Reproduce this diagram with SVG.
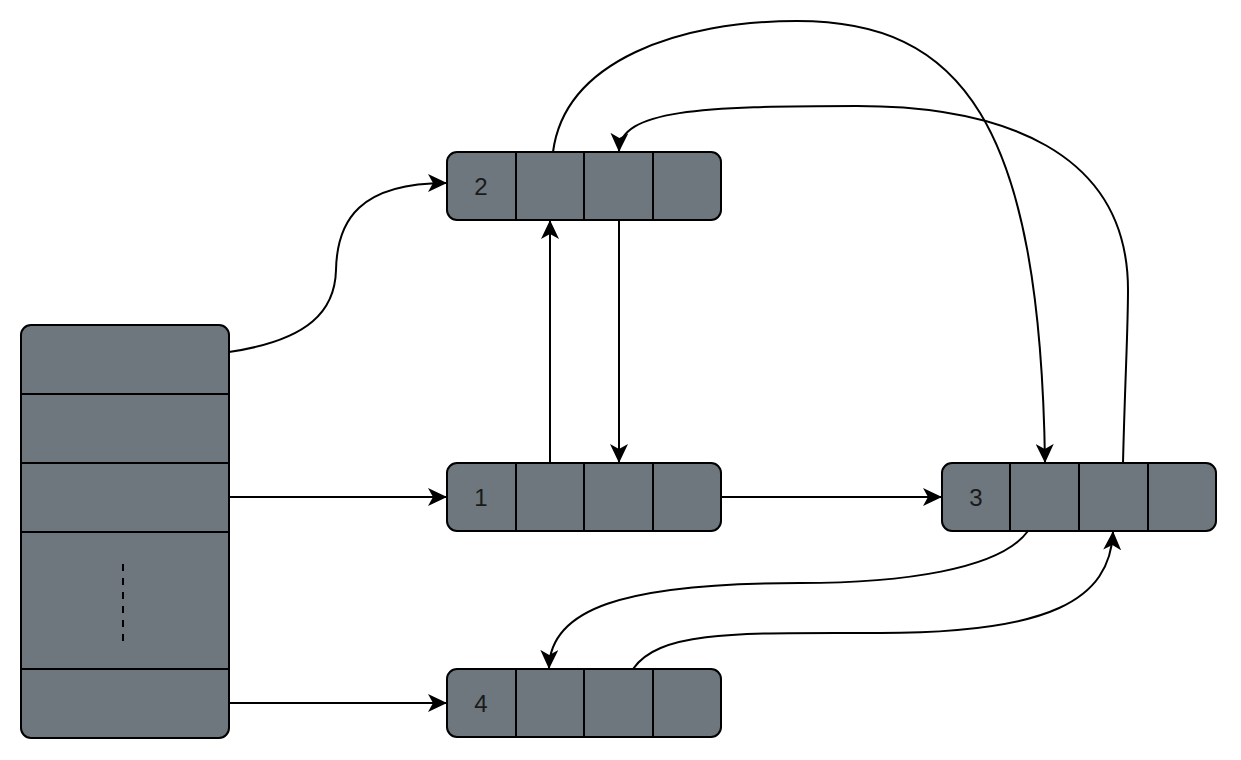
<svg xmlns="http://www.w3.org/2000/svg" width="1241" height="760" viewBox="0 0 1241 760">
<style>
.box{fill:#6d777d;stroke:#000;stroke-width:2}
.div{stroke:#000;stroke-width:2;fill:none}
.lbl{font-family:"Liberation Sans",Arial,sans-serif;font-size:24px;fill:#1a1a1a;text-anchor:middle}
.edge{fill:none;stroke:#000;stroke-width:2;marker-end:url(#arr)}
</style>
<defs>
<marker id="arr" markerUnits="userSpaceOnUse" viewBox="0 0 19 18" refX="18" refY="9" markerWidth="19" markerHeight="18" orient="auto">
<path d="M0 0 L19 9 L0 18 L5 9 Z" fill="#000"/>
</marker>
</defs>
<rect width="1241" height="760" fill="#fff"/>
<g id="table">
<rect class="box" x="21" y="325" width="208" height="413" rx="10"/>
<path class="div" d="M21 394H229M21 463H229M21 532H229M21 669H229"/>
<path d="M123 564V641" stroke="#000" stroke-width="2" stroke-dasharray="7 7"/>
</g>
<g id="node2">
<rect class="box" x="447" y="152" width="274" height="68" rx="10"/>
<path class="div" d="M516 152V220M584 152V220M653 152V220"/>
<text class="lbl" x="481" y="195">2</text>
</g>
<g id="node1">
<rect class="box" x="447" y="463" width="274" height="68" rx="10"/>
<path class="div" d="M516 463V531M584 463V531M653 463V531"/>
<text class="lbl" x="481" y="506">1</text>
</g>
<g id="node3">
<rect class="box" x="942" y="463" width="274" height="68" rx="10"/>
<path class="div" d="M1010 463V531M1079 463V531M1148 463V531"/>
<text class="lbl" x="976" y="506">3</text>
</g>
<g id="node4">
<rect class="box" x="447" y="669" width="274" height="68" rx="10"/>
<path class="div" d="M516 669V737M584 669V737M653 669V737"/>
<text class="lbl" x="481" y="712">4</text>
</g>
<g id="connectors">
<path class="edge" d="M229 352 C310 340 335 310 336 270 C337 220 360 183 446 183"/>
<path class="edge" d="M229 497 H446"/>
<path class="edge" d="M229 703 H446"/>
<path class="edge" d="M550 463 V221"/>
<path class="edge" d="M619 220 V462"/>
<path class="edge" d="M721 497 H941"/>
<path class="edge" d="M553 152 C565 60 680 21 797 21 C960 21 1040 120 1045 462"/>
<path class="edge" d="M1123 463 C1125 380 1128 330 1128 290 C1128 150 1000 106 857 106 C700 106 620 110 619 151"/>
<path class="edge" d="M1028 531 C1000 570 900 583 800 583 C620 583 550 610 549 668"/>
<path class="edge" d="M633 669 C660 630 740 633 880 633 C1050 633 1110 600 1113 532"/>
</g>
</svg>
